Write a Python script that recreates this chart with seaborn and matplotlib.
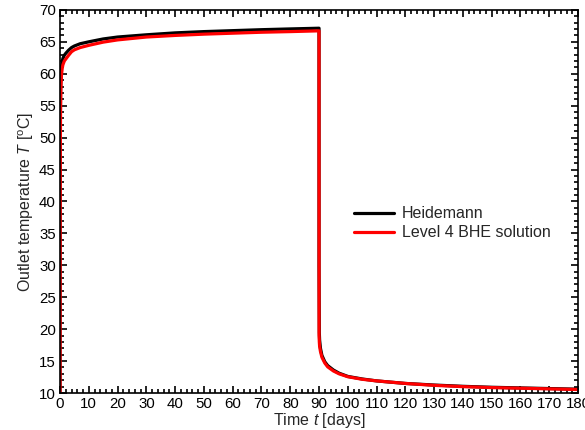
import numpy as np
import pandas as pd
import matplotlib
matplotlib.use('Agg')
import matplotlib.pyplot as plt
import seaborn as sns
from matplotlib.ticker import MultipleLocator

# Heidemann analytical solution (black)
t_heid = [0, 0.05, 0.1, 0.2, 0.3, 0.5, 0.75, 1, 1.5, 2, 3, 4, 5, 7, 10, 15, 20, 30, 40, 50, 60, 70, 80, 90,
          90, 90.1, 90.2, 90.5, 91, 92, 93, 95, 97, 100, 105, 110, 120, 130, 140, 150, 160, 170, 180]
T_heid = [10, 42, 52, 57.5, 59.5, 61.1, 61.9, 62.4, 62.9, 63.2, 63.7, 64.1, 64.35, 64.7, 65.0, 65.45, 65.75, 66.1, 66.4, 66.6, 66.75, 66.9, 67.02, 67.13,
          30, 19.5, 18.3, 17.0, 15.9, 14.9, 14.3, 13.6, 13.1, 12.6, 12.2, 11.9, 11.5, 11.25, 11.05, 10.9, 10.8, 10.7, 10.6]

# Level 4 BHE solution (red)
t_bhe = [0, 0.05, 0.1, 0.2, 0.3, 0.5, 0.75, 1, 1.5, 2, 3, 4, 5, 7, 10, 15, 20, 30, 40, 50, 60, 70, 80, 90,
         90.02, 90.1, 90.2, 90.5, 91, 92, 93, 95, 97, 100, 105, 110, 120, 130, 140, 150, 160, 170, 180]
T_bhe = [10, 36, 48, 55, 57.8, 59.8, 60.8, 61.4, 62.0, 62.3, 62.9, 63.45, 63.75, 64.1, 64.45, 64.95, 65.3, 65.75, 66.0, 66.2, 66.35, 66.5, 66.6, 66.72,
         19.0, 18.0, 17.3, 16.5, 15.6, 14.7, 14.1, 13.45, 13.0, 12.55, 12.15, 11.9, 11.5, 11.2, 11.0, 10.85, 10.75, 10.65, 10.55]

labels = ['Heidemann', 'Level 4 BHE solution']

df = pd.concat([
    pd.DataFrame({'t': t_heid, 'T': T_heid, 'model': labels[0]}),
    pd.DataFrame({'t': t_bhe, 'T': T_bhe, 'model': labels[1]}),
], ignore_index=True)

sns.set_style('ticks')
plt.rcParams['font.family'] = ['Liberation Sans', 'DejaVu Sans']
plt.rcParams['mathtext.fontset'] = 'custom'
plt.rcParams['mathtext.rm'] = 'Liberation Sans'
plt.rcParams['mathtext.it'] = 'Liberation Sans:italic'

fig = plt.figure(figsize=(5.85, 4.3), dpi=100)
ax = fig.add_axes([0.1026, 0.086, 0.8855, 0.891])

sns.lineplot(data=df, x='t', y='T', hue='model', palette=['black', 'red'],
             estimator=None, sort=False, linewidth=2.3, ax=ax)

ax.set_xlim(0, 180)
ax.set_ylim(10, 70)
ax.xaxis.set_major_locator(MultipleLocator(10))
ax.xaxis.set_minor_locator(MultipleLocator(2))
ax.yaxis.set_major_locator(MultipleLocator(5))
ax.yaxis.set_minor_locator(MultipleLocator(1))
ax.tick_params(which='both', direction='in', top=True, right=True, labelsize=10.8, colors='black', pad=3)
ax.tick_params(which='major', length=5, width=1.2)
ax.tick_params(which='minor', length=3, width=1.2)
for s in ax.spines.values():
    s.set_linewidth(1.2)
    s.set_color('black')

ax.set_xlabel(r'Time $\it{t}$ [days]', fontsize=11.5, labelpad=0)
ax.set_ylabel(r'Outlet temperature $\it{T}$ [$^{\rm o}$C]', fontsize=11.5, labelpad=2)

handles, _ = ax.get_legend_handles_labels()
ax.legend(handles, labels, loc='upper left', bbox_to_anchor=(0.54, 0.525), frameon=False,
          fontsize=11.5, handlelength=2.5, handletextpad=0.5, labelspacing=0.25)

fig.savefig('out.png', dpi=100)
